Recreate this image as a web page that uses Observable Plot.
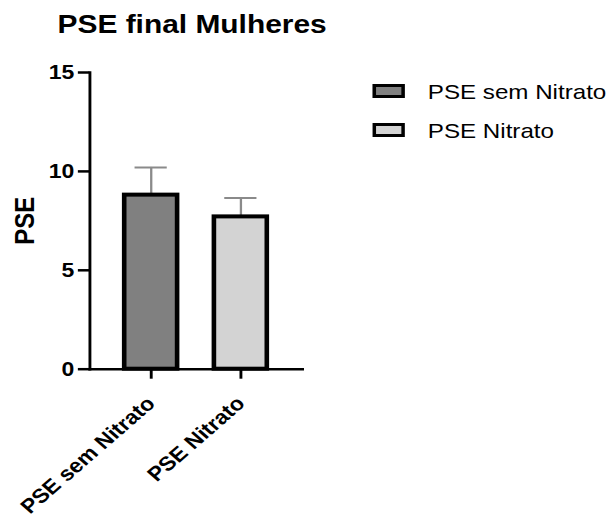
<!DOCTYPE html>
<html>
<head>
<meta charset="utf-8">
<script src="https://cdn.jsdelivr.net/npm/d3@7"></script>
<script src="https://cdn.jsdelivr.net/npm/@observablehq/plot@0.6"></script>
<style>
  html, body { margin: 0; padding: 0; background: #fff; }
  #wrap {
    position: relative; width: 536px; height: 524px; overflow: visible;
    transform: scaleX(1.15); transform-origin: 0 0;
    font-family: "Liberation Sans", Arial, Helvetica, sans-serif; color: #000;
  }
  #title {
    position: absolute; left: 50px; top: 11px; white-space: nowrap;
    font-size: 26px; line-height: 26px; font-weight: bold;
  }
  #chart { position: absolute; left: 0; top: 45px; }
  .sw { position: absolute; left: 324px; width: 28px; height: 14px; box-sizing: border-box; border: 3.5px solid #000; }
  .lt { position: absolute; left: 372px; font-size: 21px; line-height: 21px; white-space: nowrap; }
  #chart g[aria-label$="tick label"] { font-weight: bold; font-size: 20px; }
</style>
</head>
<body>
<div id="wrap">
  <div id="title"></div>
  <div id="chart"></div>
  <div id="legend"></div>
</div>
<script>
// ---- data ----
const title = "PSE final Mulheres";
const yLabel = "PSE";
const groups = ["PSE sem Nitrato", "PSE Nitrato"];
const means = [8.8, 7.7];
const errors = [1.4, 0.95];
const fills = ["#808080", "#d3d3d3"];
const yTicks = [0, 5, 10, 15];

const data = groups.map((g, i) => ({group: g, mean: means[i], err: errors[i]}));

document.getElementById("title").textContent = title;

const W = 536, H = 479;
const chart = Plot.plot({
  width: W,
  height: H,
  marginLeft: 77.7,
  marginRight: W - 262.6,
  marginTop: 27,
  marginBottom: 155.3,
  style: {fontFamily: '"Liberation Sans", Arial, Helvetica, sans-serif', color: "#000", background: "transparent", overflow: "visible"},
  x: {domain: groups, paddingInner: 0.407, paddingOuter: 0.385, label: null},
  y: {domain: [0, 15], label: null},
  color: {domain: groups, range: fills},
  marks: [
    Plot.ruleX(data, {x: "group", y1: "mean", y2: d => d.mean + d.err, stroke: "#8a8a8a", strokeWidth: 2}),
    Plot.tickY(data, {x: "group", y: d => d.mean + d.err, stroke: "#8a8a8a", strokeWidth: 2, insetLeft: 9, insetRight: 9}),
    Plot.barY(data, {x: "group", y: "mean", fill: "group", stroke: "#000", strokeWidth: 4}),
    Plot.axisY({ticks: yTicks, tickSize: 10, tickPadding: 3.5, fontSize: 20, fontWeight: "bold", strokeWidth: 2.5, label: null}),
    Plot.axisX({tickSize: 10, tickPadding: 21, tickRotate: -45, fontSize: 20, fontWeight: "bold", strokeWidth: 2.5, label: null}),
    Plot.frame({anchor: "left", strokeWidth: 2.5}),
    Plot.frame({anchor: "bottom", strokeWidth: 2.5}),
    Plot.text([yLabel], {text: d => d, frameAnchor: "left", textAnchor: "middle", rotate: -90, dx: -56.7, fontSize: 24, fontWeight: "bold"})
  ]
});
document.getElementById("chart").appendChild(chart);

// ---- legend ----
const legend = document.getElementById("legend");
const swTops = [84.3, 123.3];
const txTops = [80.6, 119.6];
groups.forEach((g, i) => {
  const sw = document.createElement("div");
  sw.className = "sw";
  sw.style.top = swTops[i] + "px";
  sw.style.background = fills[i];
  legend.appendChild(sw);
  const t = document.createElement("div");
  t.className = "lt";
  t.style.top = txTops[i] + "px";
  t.textContent = g;
  legend.appendChild(t);
});
</script>
</body>
</html>
